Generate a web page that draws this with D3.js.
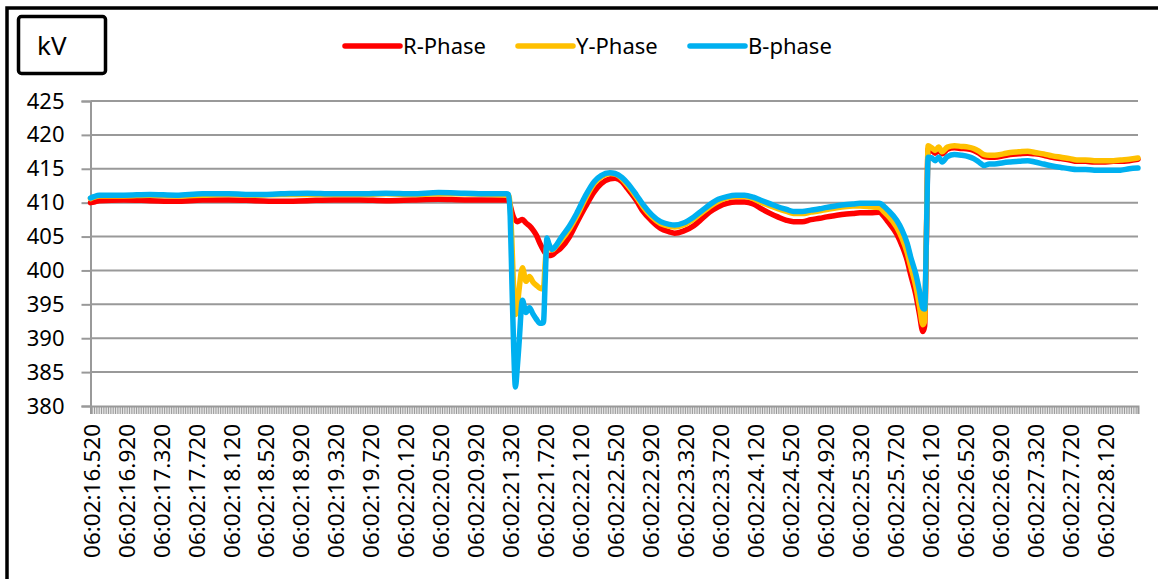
<!DOCTYPE html>
<html lang="en">
<head>
    <meta charset="UTF-8">
    <title>Phase voltages (kV)</title>
    <script src="https://d3js.org/d3.v7.min.js"></script>
    <style>
        body { margin: 0; background: #fff; }
        svg { display: block; background: #fff; }
        text { font-family: 'Noto Sans', sans-serif; fill: #000; }
    </style>
</head>
<body>
<div id="chart"></div>
<script>
    // time of each sample, seconds after 06:02:00
    var times = [
        16.52, 16.56, 16.62, 16.90, 17.20, 17.50, 17.80, 18.10, 18.40, 18.70,
        19.00, 19.30, 19.60, 19.90, 20.20, 20.50, 20.80, 21.10, 21.28, 21.30,
        21.32, 21.34, 21.36, 21.38, 21.40, 21.42, 21.46, 21.50, 21.54, 21.58,
        21.62, 21.66, 21.70, 21.72, 21.74, 21.76, 21.80, 21.84, 21.90, 22.00,
        22.08, 22.18, 22.28, 22.36, 22.46, 22.52, 22.60, 22.66, 22.76, 22.84,
        22.94, 23.04, 23.14, 23.20, 23.30, 23.42, 23.52, 23.60, 23.70, 23.80,
        23.90, 24.00, 24.10, 24.18, 24.28, 24.38, 24.48, 24.56, 24.66, 24.76,
        24.86, 24.94, 25.04, 25.14, 25.24, 25.32, 25.44, 25.54, 25.60, 25.64,
        25.74, 25.80, 25.86, 25.90, 25.96, 26.00, 26.04, 26.06, 26.08, 26.10,
        26.14, 26.18, 26.22, 26.26, 26.32, 26.40, 26.48, 26.56, 26.62, 26.68,
        26.74, 26.80, 26.86, 26.96, 27.04, 27.14, 27.24, 27.32, 27.42, 27.52,
        27.62, 27.72, 27.80, 27.90, 28.00, 28.10, 28.22, 28.30, 28.40, 28.50
    ];

    var rPhase = [
        410.0, 410.1, 410.3, 410.4, 410.3, 410.2, 410.4, 410.4, 410.3, 410.2,
        410.3, 410.4, 410.4, 410.3, 410.4, 410.5, 410.4, 410.4, 410.4, 410.4,
        409.6, 408.6, 407.8, 407.4, 407.2, 407.3, 407.5, 407.0, 406.6, 406.0,
        405.2, 404.0, 403.0, 402.6, 402.3, 402.2, 402.3, 402.7, 403.3, 405.0,
        407.0, 409.4, 411.6, 412.8, 413.5, 413.6, 413.1, 412.1, 410.4, 408.7,
        407.3, 406.2, 405.7, 405.5, 405.8, 406.6, 407.7, 408.6, 409.4, 409.9,
        410.1, 410.1, 409.8, 409.2, 408.5, 407.9, 407.4, 407.2, 407.2, 407.5,
        407.7, 407.9, 408.1, 408.3, 408.4, 408.5, 408.5, 408.6, 407.9, 407.2,
        405.4, 403.7, 401.5, 399.4, 396.4, 393.6, 391.0, 391.8, 404.5, 417.9,
        417.7, 417.3, 417.8, 417.2, 417.9, 418.1, 418.0, 417.9, 417.7, 417.3,
        416.8, 416.7, 416.7, 416.9, 417.1, 417.2, 417.3, 417.2, 417.0, 416.7,
        416.5, 416.3, 416.1, 416.1, 416.0, 416.0, 416.1, 416.1, 416.2, 416.4
    ];

    var yPhase = [
        410.6, 410.8, 411.0, 411.0, 411.1, 411.0, 411.1, 411.2, 411.1, 411.2,
        411.2, 411.2, 411.2, 411.3, 411.2, 411.3, 411.3, 411.2, 411.1, 411.1,
        409.5, 404.0, 397.0, 393.5, 394.5, 397.0, 400.4, 398.4, 399.1, 398.3,
        397.8, 397.4, 397.3, 401.0, 403.6, 403.5, 403.0, 403.5, 404.4, 406.2,
        408.0, 410.6, 412.8, 413.8, 414.3, 414.2, 413.5, 412.6, 410.9, 409.4,
        407.9, 406.9, 406.5, 406.4, 406.7, 407.6, 408.6, 409.4, 410.2, 410.7,
        410.9, 410.9, 410.6, 410.1, 409.6, 409.1, 408.7, 408.4, 408.4, 408.6,
        408.8, 409.0, 409.2, 409.4, 409.5, 409.5, 409.4, 409.3, 408.6, 408.1,
        406.4, 404.8, 402.6, 400.6, 397.6, 394.8, 392.0, 392.5, 405.5, 418.4,
        418.1, 417.7, 418.2, 417.5, 418.2, 418.4, 418.3, 418.2, 418.0, 417.6,
        417.1, 417.0, 417.0, 417.2, 417.4, 417.5, 417.6, 417.4, 417.2, 416.9,
        416.7, 416.5, 416.3, 416.3, 416.2, 416.2, 416.2, 416.3, 416.4, 416.6
    ];

    var bPhase = [
        410.7, 410.9, 411.1, 411.1, 411.2, 411.1, 411.3, 411.3, 411.2, 411.3,
        411.4, 411.3, 411.3, 411.4, 411.3, 411.5, 411.4, 411.3, 411.3, 411.2,
        408.0, 398.0, 388.5, 382.8, 385.5, 389.0, 395.6, 393.8, 394.5, 393.6,
        392.8, 392.2, 392.3, 398.5, 404.8, 404.0, 403.1, 403.6, 404.8, 406.6,
        408.4, 411.0, 413.1, 414.0, 414.4, 414.3, 413.7, 412.9, 411.2, 409.7,
        408.2, 407.2, 406.8, 406.7, 407.0, 407.9, 408.9, 409.7, 410.5, 410.9,
        411.1, 411.1, 410.8, 410.4, 409.9, 409.4, 409.0, 408.7, 408.7, 408.9,
        409.1, 409.3, 409.5, 409.7, 409.8, 409.9, 409.9, 409.9, 409.4, 408.9,
        407.4, 406.0, 404.0, 402.0, 399.4, 397.0, 394.4, 394.3, 405.0, 416.7,
        416.6, 416.2, 416.7, 416.0, 416.8, 417.1, 417.0, 416.8, 416.5, 416.0,
        415.5, 415.7, 415.7, 415.9, 416.0, 416.1, 416.2, 416.0, 415.7, 415.4,
        415.2, 415.0, 414.9, 414.9, 414.8, 414.8, 414.8, 414.8, 415.0, 415.1
    ];

    var timeLabels = [
        '06:02:16.520', '06:02:16.920', '06:02:17.320', '06:02:17.720', '06:02:18.120',
        '06:02:18.520', '06:02:18.920', '06:02:19.320', '06:02:19.720', '06:02:20.120',
        '06:02:20.520', '06:02:20.920', '06:02:21.320', '06:02:21.720', '06:02:22.120',
        '06:02:22.520', '06:02:22.920', '06:02:23.320', '06:02:23.720', '06:02:24.120',
        '06:02:24.520', '06:02:24.920', '06:02:25.320', '06:02:25.720', '06:02:26.120',
        '06:02:26.520', '06:02:26.920', '06:02:27.320', '06:02:27.720', '06:02:28.120'
    ];

    var yTicks = [380, 385, 390, 395, 400, 405, 410, 415, 420, 425];

    var seriesNames = ['R-Phase', 'Y-Phase', 'B-phase'];
    var seriesColors = ['#ff0000', '#ffc000', '#00b0f0'];

    var svgwidth = 1158;
    var svgheight = 579;
    var gridColor = '#999999';

    var svg = d3.select('#chart').append('svg')
        .attr('width', svgwidth)
        .attr('height', svgheight);

    // outer frame (left and top edges only are inside the picture)
    svg.append('path')
        .attr('d', 'M7,' + svgheight + 'V8H' + svgwidth)
        .attr('fill', 'none')
        .attr('stroke', '#000')
        .attr('stroke-width', 3.5);

    // unit box
    svg.append('rect')
        .attr('x', 18.5).attr('y', 16.5)
        .attr('width', 87).attr('height', 57)
        .attr('rx', 3)
        .attr('fill', '#fff')
        .attr('stroke', '#000')
        .attr('stroke-width', 3.5);
    svg.append('text')
        .attr('x', 37).attr('y', 55)
        .style('font-size', '26px')
        .text('kV');

    // scales
    var x = d3.scaleLinear().domain([16.52, 28.50]).range([90.5, 1138]);
    var y = d3.scaleLinear().domain([380, 425]).range([406, 101]);

    // horizontal gridlines
    svg.append('g')
        .selectAll('line')
        .data(yTicks.filter(d => d > 380))
        .enter().append('line')
        .attr('x1', x.range()[0]).attr('x2', x.range()[1])
        .attr('y1', d => y(d)).attr('y2', d => y(d))
        .attr('stroke', gridColor)
        .attr('stroke-width', 2);

    // y axis
    var yAxis = d3.axisLeft(y).tickValues(yTicks).tickSize(9).tickPadding(17);
    var gy = svg.append('g')
        .attr('transform', 'translate(' + x.range()[0] + ',0)')
        .call(yAxis);
    gy.select('.domain').attr('stroke', gridColor).attr('stroke-width', 2);
    gy.selectAll('.tick line').attr('stroke', gridColor).attr('stroke-width', 2);
    gy.selectAll('.tick text')
        .style('font-family', "'Noto Sans', sans-serif")
        .style('font-size', '22px')
        .attr('fill', '#000');

    // x axis: one small tick per 20 ms sample
    var minorTicks = d3.range(0, 600).map(i => 16.52 + i * 0.02);
    var gx = svg.append('g')
        .attr('transform', 'translate(0,' + y(380) + ')')
        .call(d3.axisBottom(x).tickValues(minorTicks).tickSize(8).tickFormat(''));
    gx.select('.domain').attr('stroke', gridColor).attr('stroke-width', 2);
    gx.selectAll('.tick line').attr('stroke', gridColor).attr('stroke-width', 1);

    // rotated time labels
    svg.append('g')
        .selectAll('text')
        .data(timeLabels)
        .enter().append('text')
        .attr('transform', d => {
            var sec = +d.slice(6);
            return 'translate(' + (x(sec) + 1) + ',424) rotate(-90)';
        })
        .attr('text-anchor', 'end')
        .attr('dy', '0.36em')
        .style('font-size', '22.5px')
        .text(d => d);

    // lines
    var seriesData = [rPhase, yPhase, bPhase];
    var line = d3.line()
        .x((d, i) => x(times[i]))
        .y(d => y(d))
        .curve(d3.curveMonotoneX);

    svg.append('g')
        .selectAll('path')
        .data(seriesData)
        .enter().append('path')
        .attr('d', d => line(d))
        .attr('fill', 'none')
        .attr('stroke', (d, i) => seriesColors[i])
        .attr('stroke-width', 5.5)
        .attr('stroke-linejoin', 'round')
        .attr('stroke-linecap', 'round');

    // legend
    var legendX = [345, 518, 690];
    var legend = svg.append('g')
        .selectAll('g')
        .data(seriesNames)
        .enter().append('g')
        .attr('transform', (d, i) => 'translate(' + legendX[i] + ',46)');
    legend.append('line')
        .attr('x1', 0).attr('x2', 55)
        .attr('stroke', (d, i) => seriesColors[i])
        .attr('stroke-width', 5.5)
        .attr('stroke-linecap', 'round');
    legend.append('text')
        .attr('x', 58)
        .attr('dy', '0.36em')
        .style('font-size', '22px')
        .text(d => d);
</script>
</body>
</html>
